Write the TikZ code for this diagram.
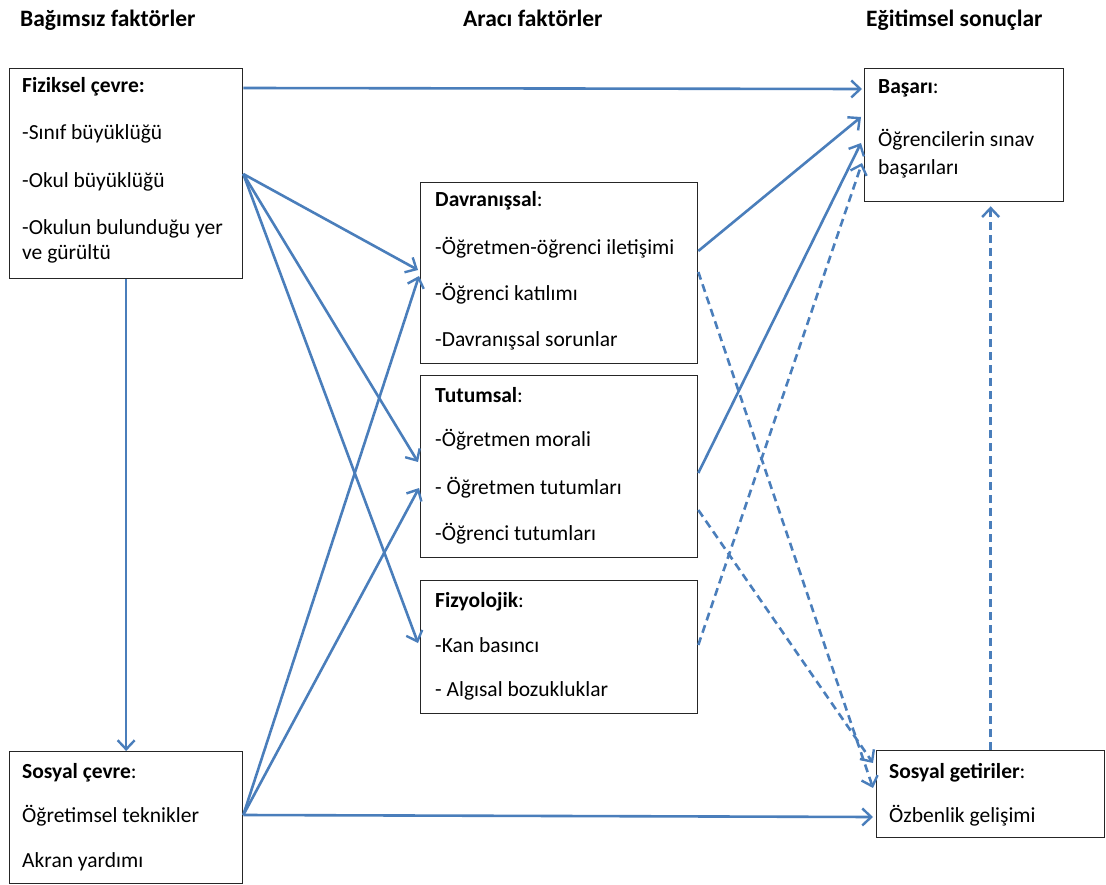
\documentclass[tikz,border=0pt]{standalone}
\usepackage{fontspec}
\setmainfont{Carlito}
\usetikzlibrary{arrows.meta}
\definecolor{ablue}{HTML}{4A7EBB}
\definecolor{bord}{HTML}{262626}
\begin{document}
\begin{tikzpicture}[x=1pt,y=-1pt,
  box/.style={draw=bord,line width=1.3pt,fill=white,inner sep=0pt,anchor=north west},
  txt/.style={anchor=west,inner sep=0pt,font=\fontsize{21.5}{25}\selectfont,text height=14pt,text depth=4pt},
  hdr/.style={anchor=west,inner sep=0pt,font=\fontsize{23.5}{27}\selectfont\bfseries,text height=15pt,text depth=5pt},
  conn/.style={draw=ablue,line width=2.6pt,-{Straight Barb[length=9pt,width=17pt,line width=2.4pt]}},
  dconn/.style={conn,dash pattern=on 8pt off 5pt}]
\useasboundingbox (0,0) rectangle (1106,885);
\fill[white] (0,0) rectangle (1106,885);
% headers
\node[hdr] (h1) at (20,22) {Bağımsız faktörler};
\node[hdr] (h2) at (463,22) {Aracı faktörler};
\node[hdr] (h3) at (866,22) {Eğitimsel sonuçlar};
% boxes
\node[box,minimum width=233pt,minimum height=210pt] (fiz) at (9,68) {};
\node[box,minimum width=233pt,minimum height=132pt] (soc) at (9,751) {};
\node[box,minimum width=277pt,minimum height=181pt] (dav) at (420,182) {};
\node[box,minimum width=277pt,minimum height=182pt] (tut) at (420,375) {};
\node[box,minimum width=277pt,minimum height=133pt] (fiy) at (420,580) {};
\node[box,minimum width=199pt,minimum height=133pt] (bas) at (864,68) {};
\node[box,minimum width=228pt,minimum height=87pt] (sget) at (876,750) {};
% texts
\node[txt] (f1) at (22,88) {\textbf{Fiziksel çevre:}};
\node[txt] (f2) at (22,135) {-Sınıf büyüklüğü};
\node[txt] (f3) at (22,183) {-Okul büyüklüğü};
\node[txt] (f4) at (22,230) {-Okulun bulunduğu yer};
\node[txt] (f5) at (22,255) {ve gürültü};
\node[txt] (d1) at (435,202) {\textbf{Davranışsal}:};
\node[txt] (d2) at (435,250) {-Öğretmen-öğrenci iletişimi};
\node[txt] (d3) at (435,296) {-Öğrenci katılımı};
\node[txt] (d4) at (435,341) {-Davranışsal sorunlar};
\node[txt] (t1) at (435,397) {\textbf{Tutumsal}:};
\node[txt] (t2) at (435,441) {-Öğretmen morali};
\node[txt] (t3) at (435,489) {- Öğretmen tutumları};
\node[txt] (t4) at (435,535) {-Öğrenci tutumları};
\node[txt] (y1) at (435,602) {\textbf{Fizyolojik}:};
\node[txt] (y2) at (435,647) {-Kan basıncı};
\node[txt] (y3) at (435,691) {- Algısal bozukluklar};
\node[txt] (b1) at (878,89) {\textbf{Başarı}:};
\node[txt] (b2) at (878,142) {Öğrencilerin sınav};
\node[txt] (b3) at (878,170) {başarıları};
\node[txt] (g1) at (889,773) {\textbf{Sosyal getiriler}:};
\node[txt] (g2) at (889,817) {Özbenlik gelişimi};
\node[txt] (s1) at (22,773) {\textbf{Sosyal çevre}:};
\node[txt] (s2) at (22,817) {Öğretimsel teknikler};
\node[txt] (s3) at (22,862) {Akran yardımı};
% connectors
\draw[conn] ([yshift=-20pt]fiz.north east) -- ([yshift=-21pt,xshift=-2pt]bas.north west);
\draw[conn] ([yshift=-106pt]fiz.north east) -- ([yshift=-88pt,xshift=-2pt]dav.north west);
\draw[conn] ([yshift=-106pt]fiz.north east) -- ([yshift=-87pt,xshift=-2pt]tut.north west);
\draw[conn] ([yshift=-106pt]fiz.north east) -- ([yshift=-63pt,xshift=-2pt]fiy.north west);
\draw[conn] (fiz.south) -- (soc.north);
\draw[conn] ([yshift=-64pt]soc.north east) -- ([yshift=-94pt,xshift=-1pt]dav.north west);
\draw[conn] ([yshift=-64pt]soc.north east) -- ([yshift=-113pt,xshift=-1pt]tut.north west);
\draw[conn] ([yshift=-64pt]soc.north east) -- ([yshift=-67pt,xshift=-3pt]sget.north west);
\draw[conn] ([yshift=-69pt]dav.north east) -- ([yshift=-49pt,xshift=-3pt]bas.north west);
\draw[dconn] ([yshift=-90pt]dav.north east) -- ([yshift=-38pt,xshift=-3pt]sget.north west);
\draw[conn] ([yshift=-98pt]tut.north east) -- ([yshift=-75pt,xshift=-3pt]bas.north west);
\draw[dconn] ([yshift=-135pt]tut.north east) -- ([yshift=-13pt,xshift=-3pt]sget.north west);
\draw[dconn] ([yshift=-65pt]fiy.north east) -- ([yshift=-95pt,xshift=-2pt]bas.north west);
\draw[dconn] (sget.north) -- ([yshift=-4pt]sget.north |- bas.south);
\end{tikzpicture}
\end{document}
